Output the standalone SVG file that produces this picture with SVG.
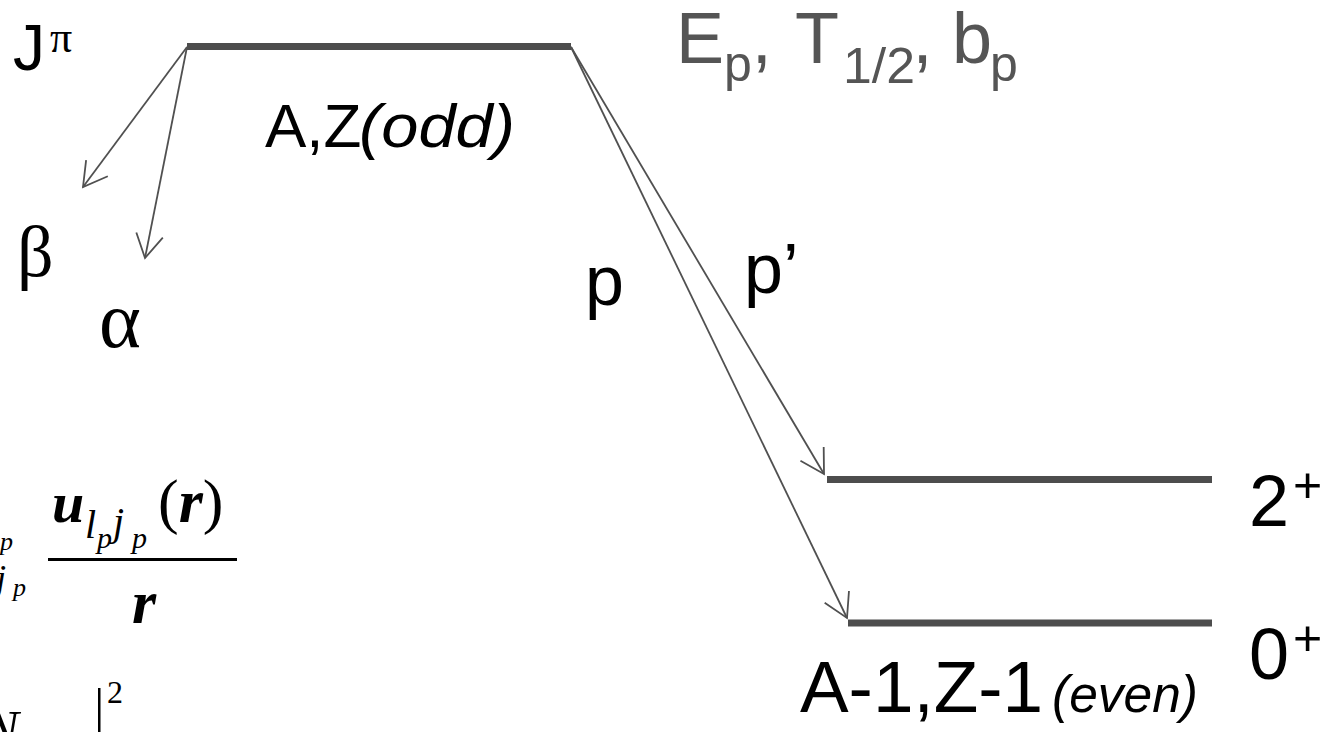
<svg xmlns="http://www.w3.org/2000/svg" width="1336" height="732" viewBox="0 0 1336 732">
<style>
.sans{font-family:"Liberation Sans",Arial,sans-serif;fill:#000}
.serif{font-family:"Liberation Serif","Times New Roman",serif;fill:#000}
.gray{fill:#555555}
.bar{stroke:#4d4d4d;stroke-width:7;fill:none}
.arr{stroke:#505050;stroke-width:1.8;fill:none;marker-end:url(#ah)}
.it{font-style:italic}
.bi{font-style:italic;font-weight:bold}
</style>
<defs>
<marker id="ah" markerUnits="userSpaceOnUse" viewBox="-26 -16 28 32" refX="0" refY="0" markerWidth="28" markerHeight="32" orient="auto" overflow="visible">
<path d="M-23.4,-13.5 L0,0 L-23.4,13.5" fill="none" stroke="#505050" stroke-width="1.8"/>
</marker>
</defs>
<rect width="1336" height="732" fill="#ffffff"/>
<g id="level-AZ">
<line class="bar" x1="187" y1="46.5" x2="571" y2="46.5"/>
<text class="sans" x="265" y="147" font-size="62">A,Z<tspan class="it" font-size="62" x="359" textLength="156" lengthAdjust="spacingAndGlyphs">(odd)</tspan></text>
</g>
<g id="level-2plus">
<line class="bar" x1="827" y1="479.5" x2="1212" y2="479.5"/>
<text class="sans" x="1249" y="526" font-size="72">2<tspan font-size="50" dx="4" dy="-24">+</tspan></text>
</g>
<g id="level-0plus">
<line class="bar" x1="848" y1="623" x2="1212" y2="623"/>
<text class="sans" x="1249" y="679" font-size="72">0<tspan font-size="50" dx="4" dy="-24">+</tspan></text>
<text class="sans" x="800" y="712" font-size="72"><tspan textLength="243" lengthAdjust="spacingAndGlyphs">A-1,Z-1</tspan><tspan class="it" font-size="52" x="1052" textLength="146" lengthAdjust="spacingAndGlyphs">(even)</tspan></text>
</g>
<g id="spin-label">
<text class="sans" x="13" y="70" font-size="64">J</text>
<text class="serif" x="50" y="52" font-size="44">π</text>
</g>
<g id="params">
<text class="sans gray" font-size="72"><tspan x="676" y="63">E</tspan><tspan x="724" y="81" font-size="50">p</tspan><tspan y="63">, </tspan><tspan x="795" y="63">T</tspan><tspan x="843" y="83" font-size="50" textLength="72" lengthAdjust="spacingAndGlyphs">1/2</tspan><tspan y="63">, </tspan><tspan x="952" y="63">b</tspan><tspan x="990" y="81" font-size="50">p</tspan></text>
</g>
<g id="connectors">
<line class="arr" x1="187" y1="47" x2="83" y2="187"/>
<line class="arr" x1="187" y1="47" x2="145" y2="258"/>
<line class="arr" x1="571" y1="47" x2="824" y2="474"/>
<line class="arr" x1="571" y1="47" x2="847" y2="618"/>
</g>
<g id="decay-labels">
<text class="serif" x="17" y="276" font-size="72">β</text>
<text class="serif" x="99" y="347" font-size="80">α</text>
<text class="sans" x="585" y="305" font-size="70">p</text>
<text class="sans" x="744" y="293" font-size="70">p’</text>
</g>
<g id="formula">
<text class="serif it" x="0" y="550" font-size="26">p</text>
<text class="serif it" x="-4" y="590" font-size="36">j</text>
<text class="serif it" x="13" y="596" font-size="26">p</text>
<text class="serif bi" x="52" y="522" font-size="58">u</text>
<text class="serif it" x="85" y="538" font-size="40">l</text>
<text class="serif it" x="97" y="548" font-size="30">p</text>
<text class="serif it" x="113" y="535" font-size="40">j</text>
<text class="serif it" x="132" y="548" font-size="30">p</text>
<text class="serif" x="158" y="522" font-size="62">(<tspan class="bi">r</tspan>)</text>
<rect x="48" y="558" width="189" height="3" fill="#000"/>
<text class="serif bi" x="132" y="623" font-size="62">r</text>
<text class="serif it" x="-16" y="747" font-size="52">N</text>
<rect x="98" y="688" width="2.5" height="44" fill="#000"/>
<text class="serif" x="107" y="703" font-size="32">2</text>
</g>
</svg>
